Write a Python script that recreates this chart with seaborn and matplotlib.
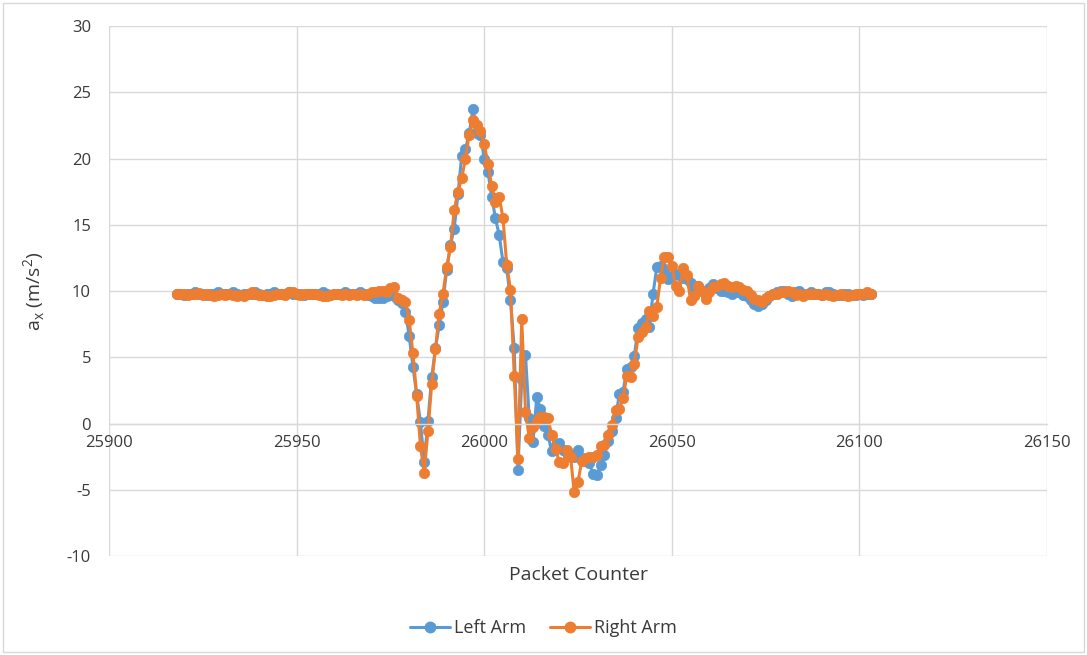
import numpy as np
import pandas as pd
import seaborn as sns
import matplotlib.pyplot as plt
from matplotlib.lines import Line2D
from matplotlib.patches import Rectangle

# ======= data (one sample per packet, starting at 25918)
first_packet = 25918

left_arm = [
    9.8, 9.8, 9.7, 9.8, 9.8, 9.9, 9.8, 9.8, 9.7, 9.8,
    9.8, 9.9, 9.8, 9.8, 9.8, 9.9, 9.8, 9.7, 9.8, 9.8,
    9.8, 9.9, 9.8, 9.7, 9.8, 9.8, 9.9, 9.8, 9.8, 9.8,
    9.9, 9.8, 9.8, 9.8, 9.7, 9.8, 9.8, 9.8, 9.8, 9.9,
    9.8, 9.7, 9.8, 9.8, 9.8, 9.9, 9.8, 9.8, 9.8, 9.9,
    9.8, 9.7, 9.6, 9.5, 9.5,
    # 25973
    9.5, 9.6, 10.0, 9.6, 9.3, 9.1, 8.4, 6.6, 4.3, 2.2,
    0.1, -2.9, 0.2, 3.5, 5.7, 7.4, 9.2, 11.6, 13.5, 14.7,
    17.3, 20.2, 20.7, 21.9, 23.7, 21.9, 21.8, 20.0, 19.0, 17.1,
    # 26003
    15.5, 14.2, 12.2, 11.7, 9.3, 5.7, -3.5, 3.3, 5.2, 0.4,
    -1.4, 2.0, 1.1, -0.2, -0.9, -2.1, -1.6, -1.5, -2.0, -2.2,
    -2.4, -2.5, -2.0, -2.6, -2.8, -3.0, -3.8, -3.9, -3.1, -2.4,
    # 26033
    -1.3, -0.6, 0.4, 2.2, 2.4, 4.1, 4.3, 5.1, 7.2, 7.6,
    7.9, 7.3, 9.8, 11.8, 11.9, 11.6, 10.9, 11.1, 11.3, 11.2,
    11.0, 10.9, 10.6, 10.1, 10.4, 10.0, 9.7, 10.2, 10.5, 10.2,
    # 26063
    10.0, 10.0, 9.9, 9.8, 9.9, 9.9, 9.7, 9.6, 9.3, 9.05,
    8.9, 9.0, 9.3, 9.6, 9.8, 9.9, 10.0, 10.0, 9.8, 9.6,
    9.9, 10.0, 9.8, 9.8, 9.9, 9.8, 9.8, 9.7, 9.9, 9.9,
    # 26093
    9.8, 9.7, 9.7, 9.8, 9.8, 9.7, 9.7, 9.8, 9.7, 9.8,
    9.8,
]

right_arm = [
    9.8, 9.75, 9.8, 9.7, 9.75, 9.8, 9.85, 9.7, 9.75, 9.7,
    9.65, 9.7, 9.75, 9.7, 9.8, 9.7, 9.65, 9.7, 9.6, 9.8,
    9.9, 9.8, 9.7, 9.7, 9.65, 9.6, 9.7, 9.8, 9.75, 9.7,
    9.9, 9.95, 9.8, 9.7, 9.75, 9.8, 9.8, 9.75, 9.7, 9.6,
    9.65, 9.7, 9.8, 9.75, 9.7, 9.8, 9.7, 9.75, 9.7, 9.75,
    9.7, 9.8, 9.9, 9.9, 10.0,
    # 25973
    10.0, 9.9, 10.2, 10.3, 9.5, 9.3, 9.2, 7.8, 5.3, 2.1,
    -1.7, -3.7, -0.6, 3.0, 5.6, 8.3, 9.8, 11.8, 13.3, 16.1,
    17.5, 18.5, 20.0, 21.8, 22.9, 22.5, 22.1, 21.1, 19.6, 17.9,
    # 26003
    16.7, 17.1, 15.5, 12.0, 10.1, 3.6, -2.7, 7.9, 0.9, -1.1,
    -0.3, 0.2, 0.5, 0.5, 0.4, -0.9, -1.9, -2.9, -3.0, -2.0,
    -2.5, -5.2, -4.4, -2.8, -2.6, -2.5, -2.5, -2.4, -1.7, -1.6,
    # 26033
    -0.9, -0.1, 1.0, 1.1, 1.9, 3.6, 3.5, 4.5, 6.5, 6.9,
    7.3, 8.5, 8.1, 8.8, 11.0, 12.6, 12.6, 11.9, 10.4, 10.0,
    11.7, 11.2, 9.3, 9.6, 10.4, 10.0, 9.4, 9.9, 10.3, 10.4,
    # 26063
    10.5, 10.6, 10.4, 10.3, 10.4, 10.3, 10.1, 10.0, 9.7, 9.4,
    9.3, 9.2, 9.5, 9.6, 9.8, 9.8, 9.9, 9.9, 10.0, 9.9,
    9.7, 9.8, 9.6, 9.8, 9.8, 9.8, 9.75, 9.7, 9.8, 9.7,
    # 26093
    9.6, 9.7, 9.8, 9.7, 9.6, 9.7, 9.8, 9.75, 9.8, 9.9,
    9.8,
]

series_names = ["Left Arm", "Right Arm"]
series_colors = ["#5B9BD5", "#ED7D31"]
x_ticks = [25900, 25950, 26000, 26050, 26100, 26150]
y_ticks = [-10, -5, 0, 5, 10, 15, 20, 25, 30]


def main():
    assert len(left_arm) == len(right_arm)
    packets = np.arange(first_packet, first_packet + len(left_arm))

    df = pd.concat([
        pd.DataFrame({"Packet Counter": packets, "ax": left_arm, "Arm": series_names[0]}),
        pd.DataFrame({"Packet Counter": packets, "ax": right_arm, "Arm": series_names[1]}),
    ])

    sns.set_style("white")
    plt.rcParams["font.family"] = ["Open Sans", "DejaVu Sans"]
    plt.rcParams["axes.unicode_minus"] = False
    text_color = "#3A3A3A"
    grid_color = "#D9D9D9"

    fig = plt.figure(figsize=(10.87, 6.55), dpi=100)
    ax = fig.add_axes([0.1003, 0.1511, 0.8629, 0.8092])

    sns.lineplot(
        data=df, x="Packet Counter", y="ax", hue="Arm",
        palette=dict(zip(series_names, series_colors)),
        marker="o", markersize=7.5, linewidth=2.2, sort=False,
        legend=False, ax=ax,
    )
    for line in ax.lines:
        line.set_markeredgecolor(line.get_color())
        line.set_markeredgewidth(0.5)

    ax.set_xlim(25900, 26150)
    ax.set_ylim(-10, 30)
    ax.set_xticks(x_ticks)
    ax.set_yticks(y_ticks)
    ax.grid(True, color=grid_color, linewidth=1)
    ax.set_axisbelow(True)

    for side in ["top", "right", "left"]:
        ax.spines[side].set_visible(False)
    # the category axis crosses at y = 0, like the original
    ax.spines["bottom"].set_position(("data", 0))
    ax.spines["bottom"].set_color(grid_color)
    ax.spines["bottom"].set_linewidth(1)

    ax.tick_params(axis="both", length=0, labelsize=12, labelcolor=text_color)
    ax.tick_params(axis="y", pad=13)
    ax.tick_params(axis="x", pad=8)

    ax.set_xlabel("Packet Counter", fontsize=14, color=text_color)
    ax.xaxis.set_label_coords(0.5, -0.018)
    ax.set_ylabel(r"a$_\mathregular{x}$ (m/s$^\mathregular{2}$)", fontsize=14, color=text_color, labelpad=14)

    handles = [
        Line2D([], [], color=c, marker="o", markersize=7.5, linewidth=2.2, markeredgecolor=c)
        for c in series_colors
    ]
    fig.legend(handles, series_names, loc="center", bbox_to_anchor=(0.5, 0.041), ncol=2,
               frameon=False, fontsize=13, handlelength=2.2, columnspacing=1.3,
               handletextpad=0.25, labelcolor=text_color)

    fig.patches.append(Rectangle((0.003, 0.004), 0.994, 0.992, transform=fig.transFigure,
                                 fill=False, edgecolor=grid_color, linewidth=1))

    fig.savefig("out.png", dpi=100)


if __name__ == "__main__":
    main()
